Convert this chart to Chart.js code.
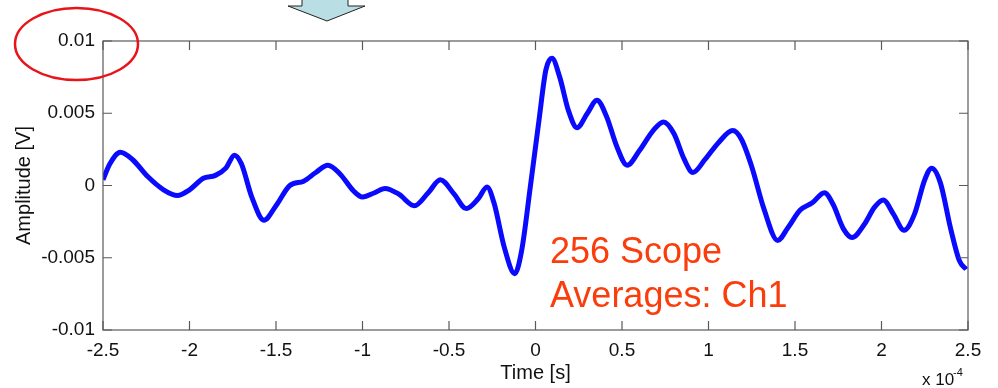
<!DOCTYPE html>
<html>
<head>
<meta charset="utf-8">
<script src="https://cdn.jsdelivr.net/npm/chart.js@4.4.1/dist/chart.umd.min.js"></script>
<style>
  html, body { margin: 0; padding: 0; background: #fff; }
  #wrap { width: 998px; height: 388px; }
</style>
</head>
<body>
<div id="wrap"><canvas id="scope"></canvas></div>
<script>
// tiempo en unidades de 1e-4 s
const timeValues = [
  -2.5, -2.46, -2.40, -2.33, -2.24, -2.15, -2.07, -2.00, -1.92, -1.85,
  -1.79, -1.74, -1.70, -1.64, -1.57, -1.50, -1.42, -1.34, -1.27, -1.20,
  -1.13, -1.05, -1.00, -0.93, -0.87, -0.79, -0.70, -0.62, -0.55, -0.47,
  -0.40, -0.33, -0.28, -0.24, -0.18, -0.12, -0.08, -0.03, 0.02, 0.06,
  0.095, 0.14, 0.19, 0.24, 0.30, 0.355, 0.41, 0.47, 0.53, 0.60,
  0.68, 0.74, 0.80, 0.86, 0.91, 0.98, 1.06, 1.14, 1.19, 1.25,
  1.32, 1.40, 1.46, 1.53, 1.60, 1.67, 1.72, 1.78, 1.83, 1.90,
  1.96, 2.01, 2.07, 2.13, 2.19, 2.25, 2.29, 2.34, 2.40, 2.45, 2.49
];
// amplitud en V
const amplitudeValues = [
  0.0004, 0.0015, 0.0023, 0.0018, 0.0006, -0.0003, -0.0007, -0.0003, 0.0005, 0.0007,
  0.0012, 0.0021, 0.0015, -0.0008, -0.0024, -0.0014, 0.0000, 0.0003, 0.0009, 0.0014,
  0.0008, -0.0004, -0.0008, -0.0005, -0.0002, -0.0006, -0.0014, -0.0005, 0.0004, -0.0006,
  -0.0016, -0.0009, -0.0001, -0.0012, -0.0043, -0.0061, -0.0045, -0.0001, 0.0045, 0.0080,
  0.0088, 0.0075, 0.0052, 0.0040, 0.0050, 0.0059, 0.0048, 0.0027, 0.0014, 0.0024,
  0.0038, 0.0044, 0.0036, 0.0018, 0.0009, 0.0018, 0.0030, 0.0038, 0.0032, 0.0013,
  -0.0016, -0.0038, -0.0029, -0.0017, -0.0012, -0.0005, -0.0013, -0.0030, -0.0036, -0.0027,
  -0.0015, -0.0010, -0.0020, -0.0031, -0.0020, 0.0004, 0.0012, 0.0002, -0.0030, -0.0052, -0.0058
];
const xTickValues = [-2.5, -2, -1.5, -1, -0.5, 0, 0.5, 1, 1.5, 2, 2.5];
const xTickLabels = ['-2.5', '-2', '-1.5', '-1', '-0.5', '0', '0.5', '1', '1.5', '2', '2.5'];
const yTickValues = [-0.01, -0.005, 0, 0.005, 0.01];
const yTickLabels = ['-0.01', '-0.005', '0', '0.005', '0.01'];

const points = timeValues.map((t, i) => ({ x: t, y: amplitudeValues[i] }));
const FONT = '"Liberation Sans", Arial, sans-serif';

function labelFor(values, labels, v) {
  const i = values.findIndex(tv => Math.abs(tv - v) < 1e-9);
  return i >= 0 ? labels[i] : '';
}

// caja, ticks hacia adentro y anotaciones
const extras = {
  id: 'extras',
  afterDraw(chart) {
    const ctx = chart.ctx;
    const a = chart.chartArea;
    const xs = chart.scales.x, ys = chart.scales.y;
    ctx.save();
    ctx.strokeStyle = '#5a5a5a';
    ctx.lineWidth = 1.2;
    ctx.strokeRect(a.left, a.top, a.right - a.left, a.bottom - a.top);
    ctx.beginPath();
    xTickValues.forEach(v => {
      const px = xs.getPixelForValue(v);
      ctx.moveTo(px, a.bottom); ctx.lineTo(px, a.bottom - 9);
      ctx.moveTo(px, a.top); ctx.lineTo(px, a.top + 9);
    });
    yTickValues.forEach(v => {
      const py = ys.getPixelForValue(v);
      ctx.moveTo(a.left, py); ctx.lineTo(a.left + 9, py);
      ctx.moveTo(a.right, py); ctx.lineTo(a.right - 9, py);
    });
    ctx.stroke();

    // exponente
    ctx.fillStyle = '#111';
    ctx.font = '17px ' + FONT;
    ctx.textBaseline = 'alphabetic';
    ctx.fillText('x 10', 922, 385);
    ctx.font = '11px ' + FONT;
    ctx.fillText('-4', 953, 376);

    // texto rojo
    ctx.fillStyle = '#fb3d0c';
    ctx.font = '36px ' + FONT;
    ctx.fillText('256 Scope', 550, 263);
    ctx.fillText('Averages: Ch1', 550, 307);

    // elipse roja
    ctx.strokeStyle = '#e8141a';
    ctx.lineWidth = 2.5;
    ctx.beginPath();
    ctx.ellipse(76.5, 44, 61.5, 36, 0, 0, Math.PI * 2);
    ctx.stroke();

    // flecha
    ctx.fillStyle = '#b9dfe4';
    ctx.strokeStyle = '#222';
    ctx.lineWidth = 1;
    ctx.beginPath();
    ctx.moveTo(302, -2); ctx.lineTo(302, 6); ctx.lineTo(288, 6);
    ctx.lineTo(327, 21); ctx.lineTo(365, 6); ctx.lineTo(348, 6);
    ctx.lineTo(348, -2);
    ctx.closePath();
    ctx.fill();
    ctx.stroke();
    ctx.restore();
  }
};

const ctx = document.getElementById('scope').getContext('2d');
new Chart(ctx, {
  type: 'scatter',
  data: {
    datasets: [{
      label: 'Ch1',
      data: points,
      showLine: true,
      borderColor: '#0a0aff',
      borderWidth: 5,
      pointRadius: 0,
      cubicInterpolationMode: 'monotone'
    }]
  },
  options: {
    responsive: true,
    maintainAspectRatio: false,
    animation: false,
    layout: { padding: { top: 41, right: 30, left: 0, bottom: 0 } },
    plugins: { legend: { display: false }, tooltip: { enabled: false } },
    scales: {
      x: {
        type: 'linear',
        min: -2.5,
        max: 2.5,
        afterFit(scale) { scale.height = 58; },
        afterBuildTicks(scale) { scale.ticks = xTickValues.map(v => ({ value: v })); },
        grid: { display: false, drawTicks: false },
        border: { display: false },
        ticks: {
          padding: 9,
          color: '#111',
          maxRotation: 0,
          font: { family: FONT, size: 19 },
          callback: v => labelFor(xTickValues, xTickLabels, v)
        },
        title: {
          display: true,
          text: 'Time [s]',
          color: '#111',
          padding: { top: 0, bottom: 3 },
          font: { family: FONT, size: 20 }
        }
      },
      y: {
        min: -0.01,
        max: 0.01,
        afterFit(scale) { scale.width = 103; },
        afterBuildTicks(scale) { scale.ticks = yTickValues.map(v => ({ value: v })); },
        grid: { display: false, drawTicks: false },
        border: { display: false },
        ticks: {
          padding: 8,
          color: '#111',
          font: { family: FONT, size: 19 },
          callback: v => labelFor(yTickValues, yTickLabels, v)
        },
        title: {
          display: true,
          text: 'Amplitude [V]',
          color: '#111',
          padding: { top: 12, bottom: 0 },
          font: { family: FONT, size: 20 }
        }
      }
    }
  },
  plugins: [extras]
});
</script>
</body>
</html>
